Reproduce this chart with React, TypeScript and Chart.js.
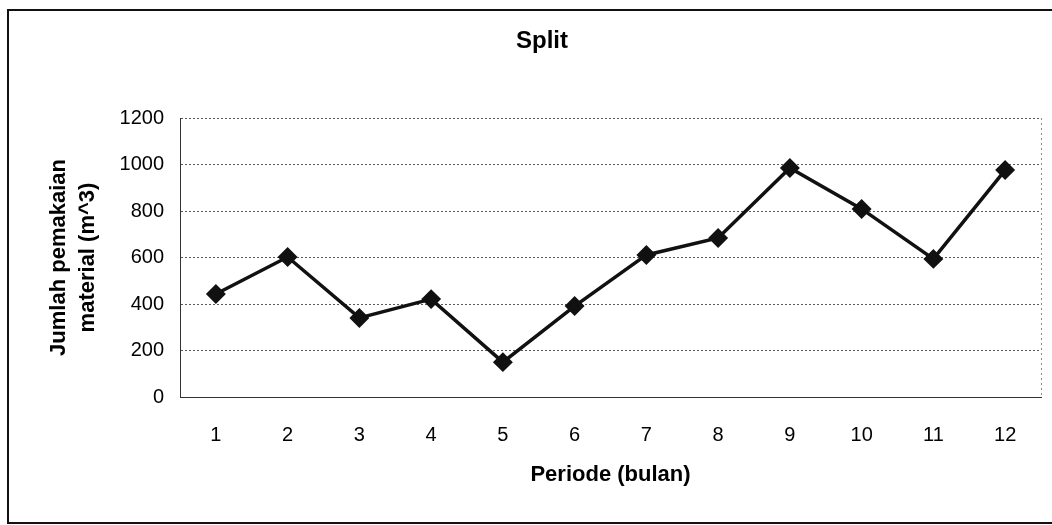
import React, { useEffect, useRef } from "react";
import { Chart, registerables } from "chart.js";

Chart.register(...registerables);

const categories = ["1", "2", "3", "4", "5", "6", "7", "8", "9", "10", "11", "12"];
const values = [443, 602, 340, 421, 150, 391, 611, 684, 985, 809, 594, 976];
const yTicks = [0, 200, 400, 600, 800, 1000, 1200];
const chartTitle = "Split";
const xTitle = "Periode (bulan)";
const yTitle = ["Jumlah pemakaian", "material (m^3)"];

const W = 1052;
const H = 525;
const PAD_L = 40;
const PAD_R = 8;
const PLOT_LEFT = 180;
const PLOT_TOP = 118;
const PLOT_BOTTOM = 397;

const framePlugin = {
  id: "frame",
  beforeDraw(chart: any) {
    const ctx = chart.ctx;
    ctx.save();
    ctx.fillStyle = "#ffffff";
    ctx.fillRect(0, 0, W, H);
    ctx.restore();
  },
  afterDraw(chart: any) {
    const ctx = chart.ctx;
    const a = chart.chartArea;
    ctx.save();
    ctx.strokeStyle = "#111";
    ctx.lineWidth = 2;
    ctx.strokeRect(8, 10, W + 10, 513);
    ctx.strokeStyle = "rgba(0,0,0,0.45)";
    ctx.lineWidth = 1;
    ctx.setLineDash([2, 3]);
    ctx.beginPath();
    ctx.moveTo(Math.round(a.right) + 0.5, a.top);
    ctx.lineTo(Math.round(a.right) + 0.5, a.bottom);
    ctx.stroke();
    ctx.restore();
  },
};

export default function App() {
  const ref = useRef<HTMLCanvasElement | null>(null);
  useEffect(() => {
    if (!ref.current) return;
    const font = "'Liberation Sans', Arial, sans-serif";
    const chart = new Chart(ref.current, {
      type: "line",
      data: {
        labels: categories,
        datasets: [
          {
            data: values,
            borderColor: "#111",
            backgroundColor: "#111",
            borderWidth: 3.5,
            pointStyle: "rectRot",
            pointRadius: 7.5,
            pointBackgroundColor: "#111",
            pointBorderColor: "#111",
            tension: 0,
          },
        ],
      },
      options: {
        responsive: false,
        animation: false,
        layout: { padding: { left: PAD_L, right: PAD_R, top: 0, bottom: 0 } },
        plugins: {
          legend: { display: false },
          tooltip: { enabled: false },
          title: {
            display: true,
            text: chartTitle,
            color: "#000",
            font: { family: font, size: 24, weight: "bold" },
            padding: { top: 27, bottom: PLOT_TOP - 27 - 28.8 },
          },
        },
        scales: {
          x: {
            type: "category",
            offset: true,
            grid: { display: false, drawTicks: false },
            border: { display: true, color: "#333", width: 1 },
            ticks: {
              color: "#000",
              font: { family: font, size: 20 },
              padding: 26,
              maxRotation: 0,
              autoSkip: false,
            },
            title: {
              display: true,
              text: xTitle,
              color: "#000",
              font: { family: font, size: 22, weight: "bold" },
              padding: { top: 0, bottom: 37 },
            },
            afterFit(scale: any) {
              scale.height = H - PLOT_BOTTOM;
            },
          },
          y: {
            min: 0,
            max: 1200,
            afterBuildTicks(scale: any) {
              scale.ticks = yTicks.map((v) => ({ value: v }));
            },
            grid: {
              color: "rgba(0,0,0,0.65)",
              lineWidth: 1,
              drawTicks: false,
            },
            border: { display: true, color: "#333", width: 1, dash: [2, 2] },
            ticks: {
              color: "#000",
              font: { family: font, size: 20 },
              padding: 16,
              callback: (v: any) => String(v),
            },
            title: {
              display: true,
              text: yTitle,
              color: "#000",
              font: { family: font, size: 22, weight: "bold", lineHeight: 1.32 },
              padding: { top: 4.5, bottom: 0 },
            },
            afterFit(scale: any) {
              scale.width = PLOT_LEFT - PAD_L;
            },
          },
        },
      },
      plugins: [framePlugin],
    } as any);
    return () => chart.destroy();
  }, []);
  return (
    <div style={{ position: "absolute", left: 0, top: 0, width: W, height: H, background: "#fff" }}>
      <canvas ref={ref} width={W} height={H} style={{ display: "block" }} />
    </div>
  );
}
